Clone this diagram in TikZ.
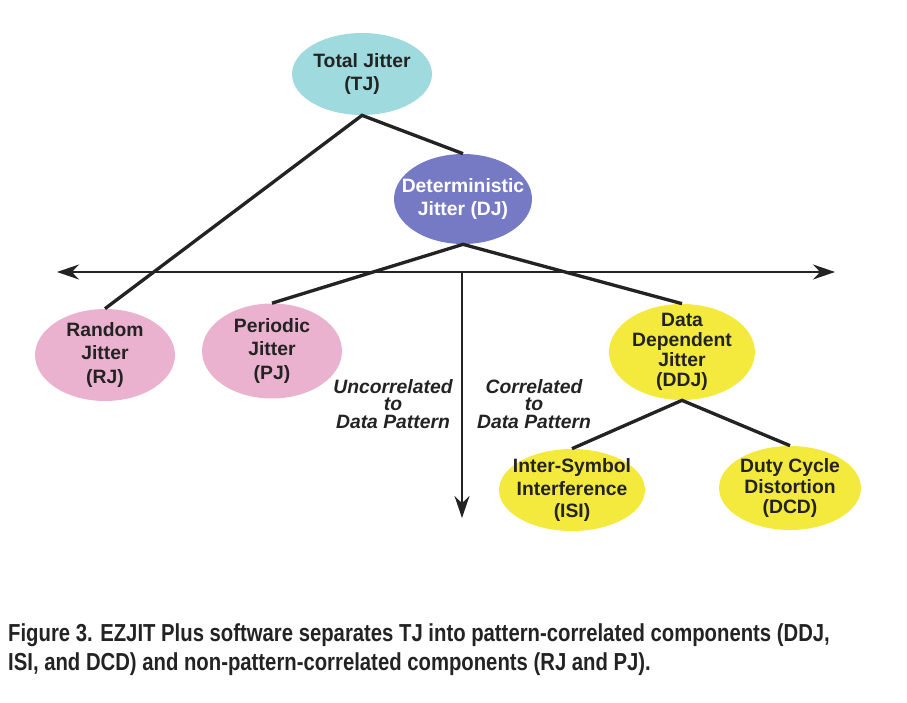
\documentclass[tikz,border=0pt]{standalone}
\usepackage{fontspec}
\setmainfont{Liberation Sans}
\newfontfamily\capfont[FakeStretch=0.825]{Liberation Sans Bold}
\usetikzlibrary{shapes.geometric,arrows.meta}
\definecolor{tjblue}{RGB}{158,218,222}
\definecolor{djblue}{RGB}{118,122,196}
\definecolor{rjpink}{RGB}{235,178,208}
\definecolor{ddjyel}{RGB}{244,234,62}
\definecolor{ink}{RGB}{35,35,35}
\begin{document}
\begin{tikzpicture}[x=0.02cm,y=-0.02cm,>={Stealth[length=0.44cm,width=0.3cm]},
  bub/.style={ellipse,inner sep=0pt},
  lbl/.style={align=center,font=\bfseries\fontsize{11}{13.5}\selectfont,text=ink},
  tag/.style={align=center,font=\bfseries\itshape\fontsize{11}{10}\selectfont,text=ink},
  link/.style={line width=1.9pt,draw=ink},
  axis/.style={line width=1.1pt,draw=ink}]
\useasboundingbox (0,0) rectangle (907,703);

\node[bub,fill=tjblue,minimum width=2.8cm,minimum height=1.64cm] (tj) at (362,74) {};
\node[bub,fill=djblue,minimum width=2.76cm,minimum height=1.8cm] (dj) at (463,199) {};
\node[bub,fill=rjpink,minimum width=2.8cm,minimum height=1.84cm] (rj) at (105,355) {};
\node[bub,fill=rjpink,minimum width=2.8cm,minimum height=1.9cm] (pj) at (272,351) {};
\node[bub,fill=ddjyel,minimum width=2.92cm,minimum height=1.92cm] (ddj) at (682,352) {};
\node[bub,fill=ddjyel,minimum width=2.92cm,minimum height=1.64cm] (isi) at (572,490) {};
\node[bub,fill=ddjyel,minimum width=2.84cm,minimum height=1.68cm] (dcd) at (790,488) {};

\node[lbl] (tj text) at (tj) {Total Jitter\\(TJ)};
\node[lbl,text=white] (dj text) at (dj) {Deterministic\\Jitter (DJ)};
\node[lbl] (rj text) at (rj) {Random\\Jitter\\(RJ)};
\node[lbl] (pj text) at (pj) {Periodic\\Jitter\\(PJ)};
\node[lbl,font=\bfseries\fontsize{11}{11.5}\selectfont] (ddj text) at (ddj) {Data\\Dependent\\Jitter\\(DDJ)};
\node[lbl,font=\bfseries\fontsize{11}{13}\selectfont] (isi text) at (isi) {Inter-Symbol\\Interference\\(ISI)};
\node[lbl,font=\bfseries\fontsize{11}{11.5}\selectfont] (dcd text) at (dcd) {Duty Cycle\\Distortion\\(DCD)};

\coordinate (left end) at (57,272);
\coordinate (right end) at (835,272);
\coordinate (split) at (462,272);
\coordinate (bottom end) at (462,518);
\draw[axis,<->] (left end) -- (right end);
\draw[axis,->] (split) -- (bottom end);

\draw[link] (rj.north) -- (tj.south) -- (dj.north);
\draw[link] (pj.north) -- (dj.south) -- (ddj.north);
\draw[link] (isi.north) -- (ddj.south) -- (dcd.north);

\node[tag] (uncorr) at (393,404) {Uncorrelated\\to\\Data Pattern};
\node[tag] (corr) at (534,404) {Correlated\\to\\Data Pattern};

\node[anchor=north west,align=left,text=ink,font=\capfont\fontsize{14}{17}\selectfont] (caption) at (2,617)
  {Figure 3. EZJIT Plus software separates TJ into pattern-correlated components (DDJ,\\
   ISI, and DCD) and non-pattern-correlated components (RJ and PJ).};
\end{tikzpicture}
\end{document}
